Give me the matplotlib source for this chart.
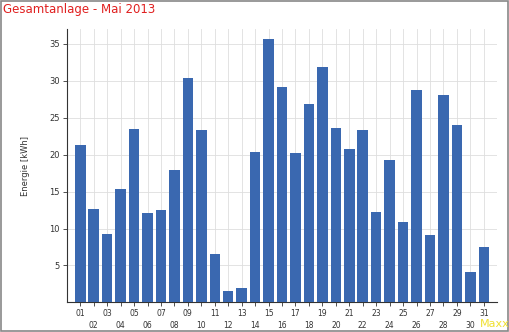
import matplotlib
matplotlib.use("Agg")
import matplotlib.pyplot as plt
from matplotlib.patches import Rectangle

days = list(range(1, 32))
day_labels = ["%02d" % d for d in days]
energie = [21.3, 12.6, 9.2, 15.3, 23.4, 12.1, 12.5, 17.9, 30.3, 23.3,
           6.5, 1.5, 1.9, 20.3, 35.6, 29.2, 20.2, 26.8, 31.8, 23.6,
           20.7, 23.3, 12.2, 19.3, 10.9, 28.8, 9.1, 28.0, 24.0, 4.1, 7.5]
y_ticks = [5, 10, 15, 20, 25, 30, 35]

fig = plt.figure(figsize=(5.1, 3.32), dpi=100)
ax = fig.add_axes([0.131, 0.089, 0.844, 0.824])

ax.bar(days, energie, width=0.78, color="#3a68b0", zorder=3)

ax.set_xlim(0, 32)
ax.set_ylim(0, 37)

# odd days on the first row, even days below
odd = [d for d in days if d % 2 == 1]
even = [d for d in days if d % 2 == 0]
ax.set_xticks(odd)
ax.set_xticklabels([day_labels[d - 1] for d in odd])
ax.set_xticks(even, minor=True)
ax.set_xticklabels([day_labels[d - 1] for d in even], minor=True)
ax.tick_params(axis="x", which="major", length=3, pad=2, labelsize=5.5,
               colors="#333333", width=0.6)
ax.tick_params(axis="x", which="minor", length=3, pad=10, labelsize=5.5,
               colors="#333333", width=0.6)

ax.set_yticks(y_ticks)
ax.tick_params(axis="y", length=3, pad=2, labelsize=6, colors="#333333", width=0.6)

ax.grid(True, which="both", color="#dedede", linewidth=0.6, zorder=0)

for s in ["top", "right"]:
    ax.spines[s].set_visible(False)
for s in ["left", "bottom"]:
    ax.spines[s].set_color("#333333")
    ax.spines[s].set_linewidth(0.8)

ax.set_ylabel("Energie [kWh]", fontsize=6, color="#333333", labelpad=14)

fig.text(0.006, 0.99, "Gesamtanlage - Mai 2013", color="#e02020",
         fontsize=8.5, ha="left", va="top")
fig.text(1.0, 0.01, "Maxx", color="#f0e030", fontsize=8, ha="right", va="bottom")

fig.patches.append(Rectangle((0.001, 0.002), 0.996, 0.995, transform=fig.transFigure,
                             fill=False, edgecolor="#888888", linewidth=1.2))

fig.savefig("out.png", dpi=100)
